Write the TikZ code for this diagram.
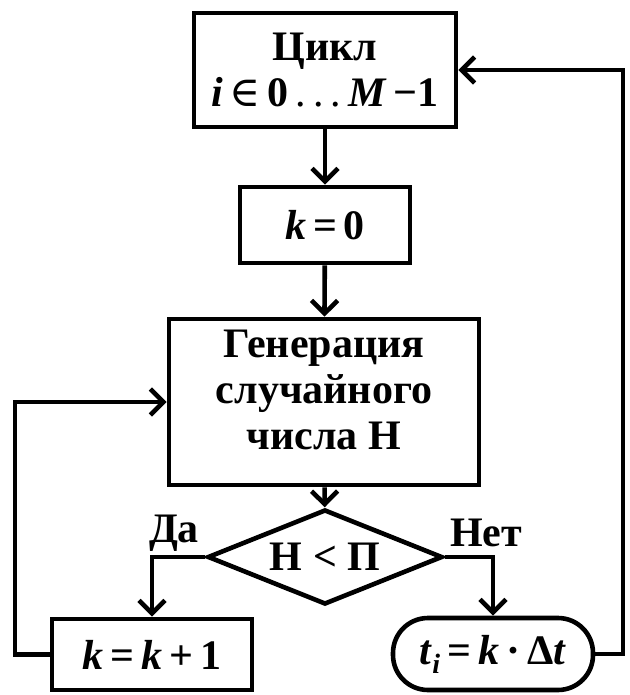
\documentclass[tikz,border=0pt]{standalone}
\usepackage{fontspec}
\setmainfont{Liberation Serif}
\newfontfamily\djv{DejaVu Serif}
\usetikzlibrary{arrows.meta,shapes.geometric}
\newcommand{\bi}[1]{\textbf{\textit{#1}}}
\begin{document}
\begin{tikzpicture}[x=1pt,y=-1pt,
  every node/.style={font=\fontsize{42}{46}\selectfont\bfseries, align=center, inner sep=0pt},
  blk/.style={draw, line width=4.6pt, rectangle},
  arr/.style={line width=4.6pt, -{Straight Barb[length=13pt,width=26pt,line width=4.6pt]}},
  con/.style={line width=4.6pt}]
\useasboundingbox (0,0) rectangle (629,695);
\node[blk, minimum width=262pt, minimum height=114pt] (top) at (325,70)
  {Цикл\\\bi{i}\,{\djv\mdseries ∈}\,0\,{\mdseries.\,.\,.}\,\bi{M}\,−1};
\node[blk, minimum width=170pt, minimum height=76pt] (k0) at (325,225) {\bi{k}\,=\,0};
\node[blk, minimum width=310pt, minimum height=166pt] (gen) at (324,402)
  {Генерация\\случайного\\числа Н\\[-22pt]};
\node[draw, diamond, line width=4.6pt, minimum width=235pt, minimum height=95pt, shape aspect=2.47] (dec) at (325,557) {Н < П};
\node[blk, minimum width=200pt, minimum height=71pt] (kinc) at (152,654.5) {\bi{k}\,=\,\bi{k}\,+\,1};
\node[draw, line width=4.6pt, rounded corners=35pt, minimum width=200pt, minimum height=72pt] (term) at (493,654)
  {\bi{t}\raisebox{-9pt}{\fontsize{28}{28}\selectfont\bi{i}}\,=\,\bi{k}\,·\,Δ\bi{t}};
\node (da) at (174,533) {Да};
\node (net) at (486,533) {Нет};
\coordinate (lc) at (15,0);
\coordinate (rc) at (623,0);
\draw[arr] (top) -- (k0);
\draw[arr] (k0) -- (gen);
\draw[arr] (gen) -- (dec);
\draw[arr] (dec.west) -| (kinc.north);
\draw[arr] (dec.east) -| (term.north);
\draw[arr] (kinc.west) -- (kinc.west -| lc) |- (gen.west);
\draw[arr] (term.east) -- (term.east -| rc) |- (top.east);
\end{tikzpicture}
\end{document}
